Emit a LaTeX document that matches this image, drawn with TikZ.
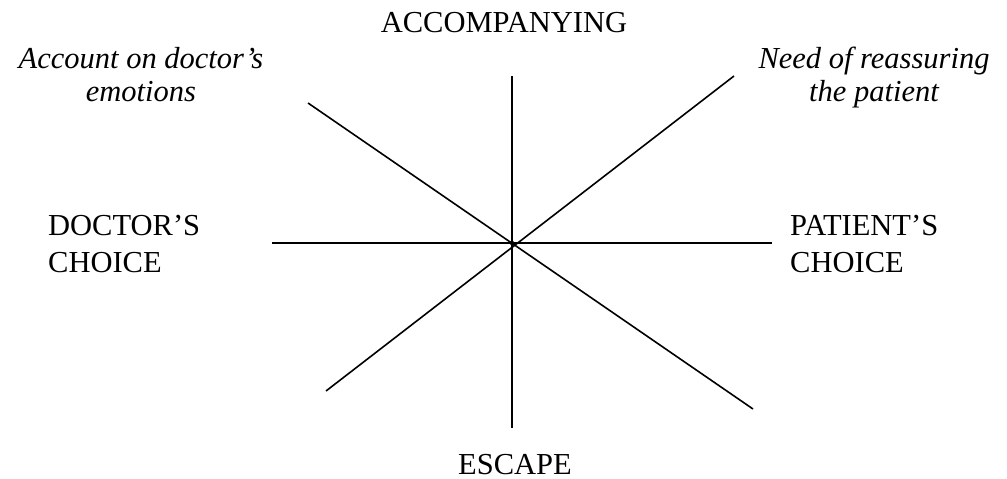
\documentclass[tikz,border=0pt]{standalone}
\usepackage{fontspec}
\setmainfont{Liberation Serif}
\begin{document}
\begin{tikzpicture}[x=1pt,y=-1pt,
  axis/.style={line width=1.6pt,black},
  caplabel/.style={font=\fontsize{30.5}{37}\selectfont,inner sep=0pt,anchor=base},
  itlabel/.style={font=\fontsize{30.5}{33}\selectfont\itshape,inner sep=0pt,anchor=base,align=center}]
\useasboundingbox (0,0) rectangle (1007,479);
\coordinate (c) at (512,243);
\coordinate (t) at (512,76);
\coordinate (b) at (512,428);
\coordinate (l) at (272,243);
\coordinate (r) at (772,243);
\coordinate (tl) at (308,103);
\coordinate (br) at (753,409);
\coordinate (tr) at (734,76);
\coordinate (bl) at (326,391);
\draw[axis] (t) -- (b);
\draw[axis] (l) -- (r);
\draw[axis] (tl) -- (br);
\draw[axis] (tr) -- (bl);
\fill (c) circle (2.2pt);
\node[caplabel] (acc) at (504,32) {ACCOMPANYING};
\node[caplabel] (esc) at (515,474) {ESCAPE};
\node[caplabel,align=left,anchor=base west] (doc) at (48,272) {DOCTOR’S\\CHOICE};
\node[caplabel,align=left,anchor=base west] (pat) at (790,272) {PATIENT’S\\CHOICE};
\node[itlabel] (emo) at (141,101) {Account on doctor’s\\emotions};
\node[itlabel] (reas) at (874,101) {Need of reassuring\\the patient};
\end{tikzpicture}
\end{document}
